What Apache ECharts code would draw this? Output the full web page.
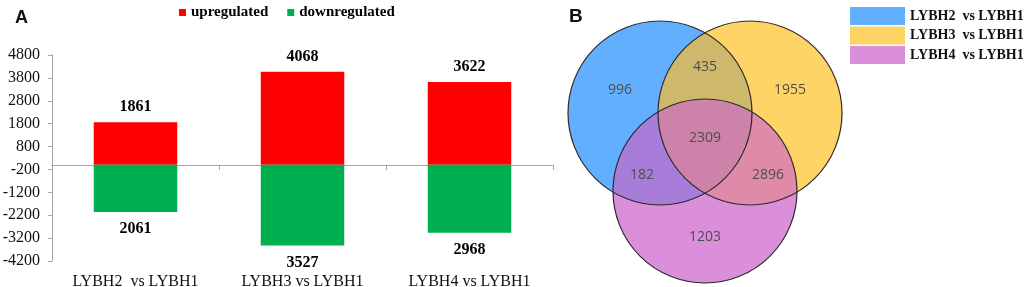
<!DOCTYPE html>
<html>
<head>
<meta charset="utf-8">
<script src="https://cdn.jsdelivr.net/npm/echarts@6/dist/echarts.min.js"></script>
<style>html,body{margin:0;padding:0;background:#fff;}#c{width:1024px;height:287px;}</style>
</head>
<body>
<div id="c"></div>
<script>
// ---- data ----
const categories = ['LYBH2  vs LYBH1', 'LYBH3 vs LYBH1', 'LYBH4 vs LYBH1'];
const upregulated = [1861, 4068, 3622];
const downregulated = [2061, 3527, 2968];
const yAxisMin = -4200, yAxisMax = 4800, yAxisStep = 1000;
const vennSets = ['LYBH2  vs LYBH1', 'LYBH3  vs LYBH1', 'LYBH4  vs LYBH1'];
// region counts: only2, 2&3, only3, all, 2&4, 3&4, only4
const vennCounts = [996, 435, 1955, 2309, 182, 2896, 1203];

// ---- layout (Venn drawing coordinates, not data) ----
const vennCircles = [[120, 113, 92], [210, 113, 92], [165, 191, 92]];
const vennLabelPos = [[80, 90], [165, 67], [250, 90], [165, 138], [102, 175], [228, 175], [165, 237]];
const vennColors = ['#63AFFF', '#FFD466', '#DB8FDB'];
const overlapSets = [[0, 1], [0, 2], [1, 2], [0, 1, 2]];
const overlapColors = ['#CDB86B', '#A87DDA', '#E08AAA', '#CD82AA'];

const serif = "'Liberation Serif','Times New Roman',serif";

function pixCircle(api, i) {
  const c = vennCircles[i];
  const p = api.coord([c[0], c[1]]);
  const r = api.size([c[2], 0])[0];
  return { x: p[0], y: p[1], r: r };
}
function intersectPoly(circles) {
  const pts = [];
  const N = 720;
  circles.forEach((c, i) => {
    for (let k = 0; k < N; k++) {
      const t = 2 * Math.PI * k / N;
      const px = c.x + c.r * Math.cos(t), py = c.y + c.r * Math.sin(t);
      if (circles.every((o, j) => j === i || Math.hypot(px - o.x, py - o.y) <= o.r + 1e-6)) pts.push([px, py]);
    }
  });
  let cx = 0, cy = 0;
  pts.forEach(p => { cx += p[0]; cy += p[1]; });
  cx /= pts.length; cy /= pts.length;
  pts.sort((a, b) => Math.atan2(a[1] - cy, a[0] - cx) - Math.atan2(b[1] - cy, b[0] - cx));
  return pts;
}

const circleSeries = vennSets.map((name, i) => ({
  type: 'custom', name: name, xAxisIndex: 1, yAxisIndex: 1, clip: false,
  itemStyle: { color: vennColors[i], borderColor: '#ffffff' },
  data: [[vennCircles[i][0], vennCircles[i][1]]],
  renderItem: function (params, api) {
    const c = pixCircle(api, i);
    return { type: 'circle', shape: { cx: c.x, cy: c.y, r: c.r }, style: { fill: vennColors[i] } };
  },
  silent: true
}));

const option = {
  animation: false,
  backgroundColor: '#ffffff',
  title: [
    { text: 'A', left: 10, top: 4, textStyle: { fontFamily: "'Liberation Sans',Arial,sans-serif", fontWeight: 'bold', fontSize: 18, color: '#111' } },
    { text: 'B', left: 564, top: 2, textStyle: { fontFamily: "'Liberation Sans',Arial,sans-serif", fontWeight: 'bold', fontSize: 19, color: '#111' } }
  ],
  legend: [
    {
      data: ['upregulated', 'downregulated'], left: 174, top: 0, itemWidth: 7, itemHeight: 7, itemGap: 19,
      icon: 'rect', selectedMode: false,
      textStyle: { fontFamily: serif, fontWeight: 'bold', fontSize: 15, color: '#000' }
    },
    {
      data: vennSets, left: 845, top: 2, orient: 'vertical', itemWidth: 55, itemHeight: 18, itemGap: 1.5,
      icon: 'rect', selectedMode: false,
      textStyle: { fontFamily: serif, fontWeight: 'bold', fontSize: 14, color: '#111' }
    }
  ],
  grid: [
    { left: 52, right: 471, top: 55, bottom: 26, outerBoundsMode: 'none', containLabel: false },
    { left: 540, top: 0, width: 300, height: 287, outerBoundsMode: 'none', containLabel: false }
  ],
  xAxis: [
    {
      type: 'category', data: categories, gridIndex: 0,
      axisLine: { lineStyle: { color: '#a6a6a6' } },
      axisTick: { show: true, length: 5, lineStyle: { color: '#a6a6a6' } },
      axisLabel: { show: false }
    },
    { type: 'value', gridIndex: 1, min: 0, max: 300, show: false },
    {
      type: 'category', data: categories, gridIndex: 0, position: 'bottom',
      axisLine: { show: false, onZero: false }, axisTick: { show: false },
      axisLabel: { margin: 13, fontFamily: serif, fontSize: 16, color: '#111' }
    }
  ],
  yAxis: [
    {
      type: 'value', gridIndex: 0, min: yAxisMin, max: yAxisMax, interval: yAxisStep,
      axisLine: { show: true, lineStyle: { color: '#a6a6a6' } },
      axisTick: { show: true, length: 4, lineStyle: { color: '#a6a6a6' } },
      splitLine: { show: false },
      axisLabel: { margin: 12, fontFamily: serif, fontSize: 16, color: '#111', hideOverlap: false, formatter: v => String(v) }
    },
    { type: 'value', gridIndex: 1, min: 0, max: 287, inverse: true, show: false }
  ],
  series: [
    {
      name: 'upregulated', type: 'bar', barWidth: '50%', barGap: '-100%',
      itemStyle: { color: '#FF0000' },
      label: { show: true, position: 'top', distance: 7, fontFamily: serif, fontWeight: 'bold', fontSize: 16, color: '#000' },
      data: upregulated
    },
    {
      name: 'downregulated', type: 'bar', barWidth: '50%', barGap: '-100%',
      itemStyle: { color: '#00B050' },
      label: { show: true, position: 'bottom', distance: 9, fontFamily: serif, fontWeight: 'bold', fontSize: 16, color: '#000',
        formatter: p => String(Math.abs(p.value)) },
      data: downregulated.map(v => -v)
    },
    ...circleSeries,
    {
      type: 'custom', name: 'overlaps', xAxisIndex: 1, yAxisIndex: 1, clip: false, silent: true,
      data: overlapSets.map((s, i) => [i, 0]),
      renderItem: function (params, api) {
        const idx = params.dataIndex;
        const cs = overlapSets[idx].map(i => pixCircle(api, i));
        return { type: 'polygon', shape: { points: intersectPoly(cs) }, style: { fill: overlapColors[idx] } };
      }
    },
    {
      type: 'custom', name: 'outlines', xAxisIndex: 1, yAxisIndex: 1, clip: false, silent: true,
      data: vennCircles.map(c => [c[0], c[1]]),
      renderItem: function (params, api) {
        const c = pixCircle(api, params.dataIndex);
        return { type: 'circle', shape: { cx: c.x, cy: c.y, r: c.r }, style: { fill: null, stroke: '#2a2a2a', lineWidth: 1.2 } };
      }
    },
    {
      type: 'custom', name: 'counts', xAxisIndex: 1, yAxisIndex: 1, clip: false, silent: true,
      data: vennCounts.map((v, i) => [vennLabelPos[i][0], vennLabelPos[i][1], v]),
      renderItem: function (params, api) {
        const p = api.coord([api.value(0), api.value(1)]);
        return { type: 'text', x: p[0], y: p[1], style: { text: String(api.value(2)), fontFamily: "'Open Sans','DejaVu Sans',sans-serif", fontSize: 14, fill: '#4d4d4d', align: 'center', verticalAlign: 'middle' } };
      }
    }
  ]
};
const chart = echarts.init(document.getElementById('c'), null, { renderer: 'canvas' });
chart.setOption(option);
</script>
</body>
</html>
